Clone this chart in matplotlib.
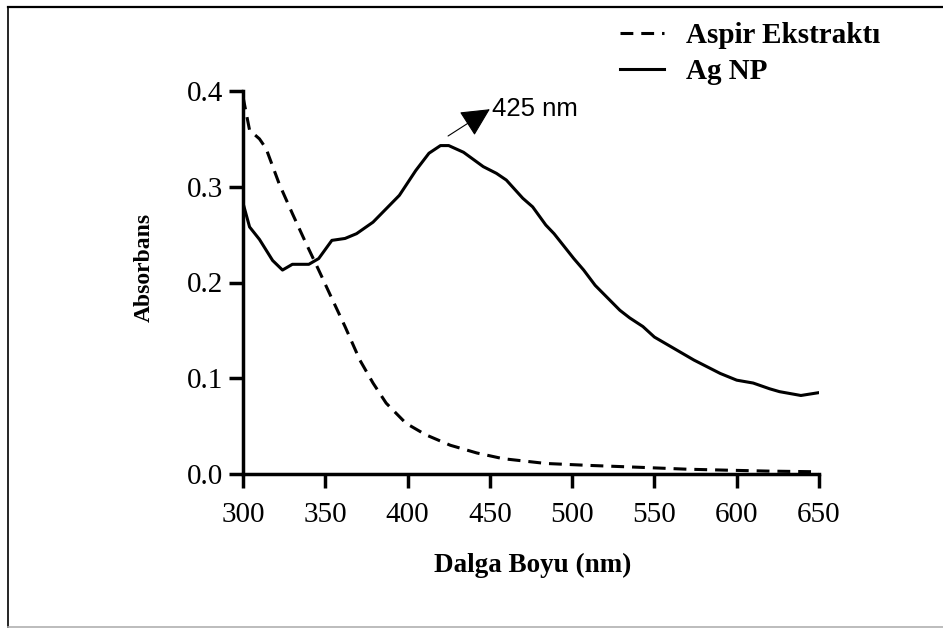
import numpy as np
import matplotlib.pyplot as plt
from matplotlib.lines import Line2D

# UV-Vis spectra
wl_ag = [300, 304, 310, 318, 324, 330, 340, 346, 354, 362, 369, 379, 387, 395,
         405, 413, 420, 425, 434, 446, 454, 460, 470, 476, 484, 489, 501, 507,
         514, 529, 535, 543, 550, 557, 574, 590, 600, 610, 620, 626, 639, 650]
abs_ag = [0.283, 0.258, 0.245, 0.223, 0.213, 0.219, 0.219, 0.225, 0.244, 0.246,
          0.251, 0.263, 0.277, 0.291, 0.317, 0.335, 0.343, 0.343, 0.336, 0.321,
          0.314, 0.307, 0.288, 0.279, 0.260, 0.251, 0.225, 0.213, 0.197, 0.171,
          0.163, 0.154, 0.143, 0.136, 0.119, 0.105, 0.098, 0.095, 0.089, 0.086,
          0.082, 0.085]

wl_asp = [300, 304, 310, 314, 322, 330, 338, 346, 353, 362, 371, 379, 387, 399,
          411, 426, 442, 458, 484, 510, 541, 570, 594, 620, 646, 650]
abs_asp = [0.394, 0.359, 0.350, 0.340, 0.303, 0.272, 0.242, 0.213, 0.187, 0.154,
           0.119, 0.095, 0.074, 0.053, 0.041, 0.030, 0.022, 0.016, 0.011, 0.009,
           0.007, 0.005, 0.004, 0.003, 0.0024, 0.002]

labels = ['Aspir Ekstraktı', 'Ag NP']
xticks = [300, 350, 400, 450, 500, 550, 600, 650]
yticks = [0.0, 0.1, 0.2, 0.3, 0.4]
peak_label = '425 nm'

serif = 'Liberation Serif'
plt.rcParams['font.family'] = serif

W, H = 943, 628
fig = plt.figure(figsize=(W / 100, H / 100), dpi=100)
ax = fig.add_axes([243 / W, 1 - 474 / H, 576 / W, 383 / H])

lw = 2.2
ax.plot(wl_asp, abs_asp, color='black', lw=lw, linestyle=(0, (4.2, 2.6)),
        label=labels[0])
ax.plot(wl_ag, abs_ag, color='black', lw=lw, label=labels[1])

ax.set_xlim(300, 650)
ax.set_ylim(0, 0.4)
ax.set_xticks(xticks)
ax.set_yticks(yticks)
ax.set_yticklabels([f'{v:.1f}' for v in yticks])
for s in ['top', 'right']:
    ax.spines[s].set_visible(False)
for s in ['left', 'bottom']:
    ax.spines[s].set_linewidth(2.5)
ax.tick_params(axis='both', length=10, width=2.5, labelsize=21)
ax.tick_params(axis='x', pad=10)
ax.tick_params(axis='y', pad=4)

ax.set_xlabel('Dalga Boyu (nm)', fontsize=19.5, fontweight='bold', va='top')
ax.set_ylabel('Absorbans', fontsize=17, fontweight='bold')
ax.xaxis.set_label_coords(0.503, -0.205)
ax.yaxis.set_label_coords(-0.153, 0.54)

# peak arrow
ax.annotate('', xy=(450, 0.381), xytext=(424.6, 0.353),
            arrowprops=dict(arrowstyle='-|>,head_length=18,head_width=9',
                            mutation_scale=1, color='black', lw=0.8,
                            shrinkA=0, shrinkB=0))
ax.text(451, 0.381, peak_label, fontsize=18.5, family='Liberation Sans',
        ha='left', va='center')

ax.legend(loc='upper left', bbox_to_anchor=(620 / W, 1 - 22 / H),
          bbox_transform=fig.transFigure, frameon=False, handlelength=1.5,
          handletextpad=0.75, labelspacing=0.3, borderpad=0, borderaxespad=0,
          prop={'family': serif, 'weight': 'bold', 'size': 21})

# outer frame of the picture
fig.add_artist(Line2D([8 / W, 1], [1 - 7 / H, 1 - 7 / H], color='black', lw=1.6))
fig.add_artist(Line2D([8 / W, 8 / W], [0, 1 - 7 / H], color='black', lw=1.2))
fig.add_artist(Line2D([8 / W, 1], [1 / H, 1 / H], color='#b0b0b0', lw=1.2))

fig.savefig('out.png', dpi=100)
